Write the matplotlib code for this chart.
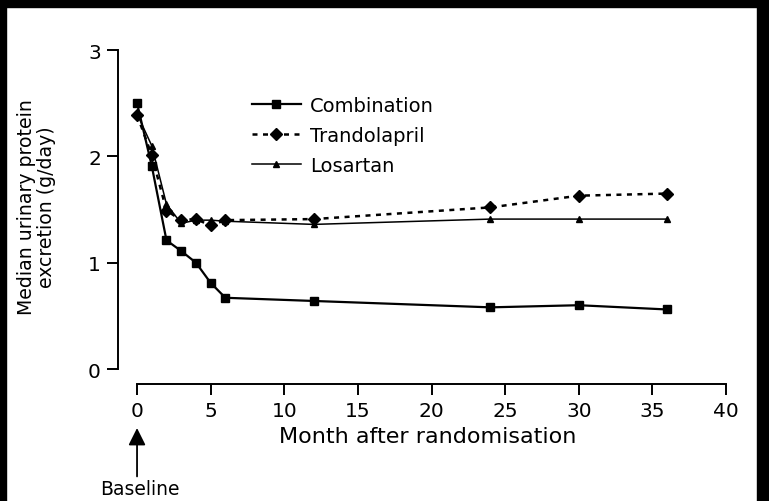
import matplotlib
matplotlib.use("Agg")
from matplotlib import pyplot as plt
from matplotlib.patches import Rectangle

plt.rcParams['font.family'] = ['DejaVu Sans']

# months after randomisation
months = [0, 1, 2, 3, 4, 5, 6, 12, 24, 30, 36]
# median urinary protein excretion (g/day)
combination = [2.50, 1.91, 1.21, 1.11, 1.00, 0.81, 0.67, 0.64, 0.58, 0.60, 0.56]
trandolapril = [2.39, 2.01, 1.49, 1.40, 1.41, 1.35, 1.40, 1.41, 1.52, 1.63, 1.65]
losartan = [2.40, 2.10, 1.55, 1.37, 1.40, 1.40, 1.39, 1.36, 1.41, 1.41, 1.41]

xticks = [0, 5, 10, 15, 20, 25, 30, 35, 40]
yticks = [0, 1, 2, 3]

fig = plt.figure(figsize=(7.69, 5.02), dpi=100)
ax = fig.add_axes([0.1782, 0.2629, 0.7659, 0.6355])

ax.plot(months, combination, '-', color='black', lw=1.6, marker='s', ms=5.5,
        label='Combination', clip_on=False)
ax.plot(months, trandolapril, ':', color='black', lw=1.8, marker='D', ms=6.5,
        label='Trandolapril', clip_on=False, dashes=(2, 2.2))
ax.plot(months, losartan, '-', color='black', lw=1.1, marker='^', ms=4.5,
        label='Losartan', clip_on=False)

ax.set_xlim(0, 40)
ax.set_ylim(0, 3)
ax.set_xticks(xticks)
ax.set_yticks(yticks)

for s in ['top', 'right']:
    ax.spines[s].set_visible(False)
ax.spines['left'].set_position(('outward', 14))
ax.spines['bottom'].set_position(('outward', 11))
ax.spines['left'].set_linewidth(1.4)
ax.spines['bottom'].set_linewidth(1.4)
ax.tick_params(direction='out', length=8, width=1.4, labelsize=14.5, pad=4)

ax.set_xlabel('Month after randomisation', fontsize=16)
ax.xaxis.set_label_coords(0.494, -0.178)
ax.text(-0.171, 0.51, 'Median urinary protein\nexcretion (g/day)', fontsize=13.6,
        rotation=90, ha='center', va='center', linespacing=1.1,
        transform=ax.transAxes)

leg = ax.legend(loc='upper left', bbox_to_anchor=(0.182, 0.88), frameon=False,
                fontsize=14, handlelength=2.5, handletextpad=0.5,
                labelspacing=0.56, borderaxespad=0)

# baseline arrow
ax.annotate('', xy=(0, -0.555), xytext=(0, -1.01), annotation_clip=False,
            arrowprops=dict(arrowstyle='-|>', color='black', lw=1.3,
                            mutation_scale=26, shrinkA=0, shrinkB=0))
ax.text(0.2, -1.125, 'Baseline', ha='center', va='center', fontsize=13.5,
        clip_on=False)

# black scan borders
fig.patches.append(Rectangle((0, 0.985), 1, 0.015, transform=fig.transFigure,
                             color='black', zorder=10))
fig.patches.append(Rectangle((0, 0), 0.008, 1, transform=fig.transFigure,
                             color='black', zorder=10))
fig.patches.append(Rectangle((0.985, 0), 0.015, 1, transform=fig.transFigure,
                             color='black', zorder=10))

plt.savefig('out.png', dpi=100)
